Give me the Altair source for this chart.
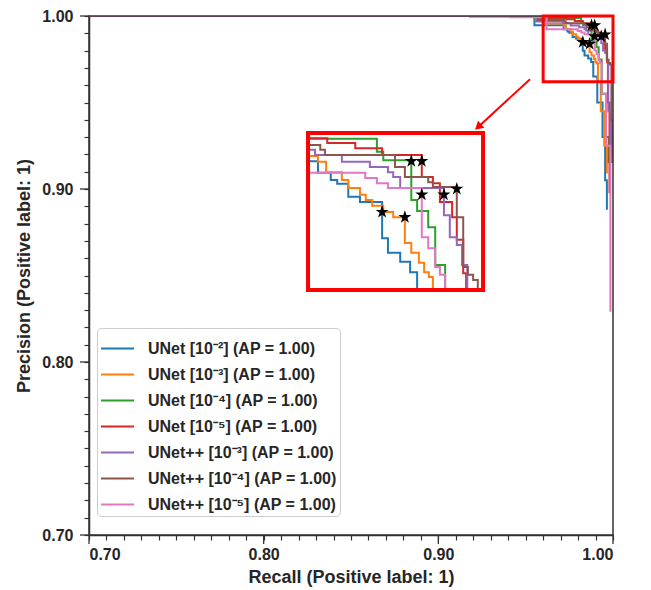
import altair as alt
import pandas as pd

# ---------------- data ----------------
names = [
    "UNet [10⁻²] (AP = 1.00)",
    "UNet [10⁻³] (AP = 1.00)",
    "UNet [10⁻⁴] (AP = 1.00)",
    "UNet [10⁻⁵] (AP = 1.00)",
    "UNet++ [10⁻³] (AP = 1.00)",
    "UNet++ [10⁻⁴] (AP = 1.00)",
    "UNet++ [10⁻⁵] (AP = 1.00)",
]
colors = ["#1f77b4", "#ff7f0e", "#2ca02c", "#d62728", "#9467bd", "#8c564b", "#e377c2"]

# step curves: precision level k holds until recall step k, then drops to level k+1
unet2_recall = [0.955, 0.9717, 0.9739, 0.9750, 0.9769, 0.9789, 0.9827, 0.9837, 0.9858,
                0.9875, 0.9887, 0.9910, 0.9940, 0.9955, 0.9965]
unet2_prec = [1.0, 0.9946, 0.9924, 0.9910, 0.9903, 0.9878, 0.9868, 0.9799, 0.9771, 0.9754,
              0.9734, 0.965, 0.950, 0.930, 0.905, 0.888]

unet3_recall = [0.918, 0.960, 0.9717, 0.9731, 0.9758, 0.9769, 0.9789, 0.9799, 0.9810, 0.9829,
                0.9846, 0.9866, 0.9877, 0.9890, 0.9899, 0.9907, 0.9914, 0.9930, 0.9950, 0.9965]
unet3_prec = [1.0, 0.9995, 0.9956, 0.9945, 0.9925, 0.9910, 0.9895, 0.9882, 0.9872, 0.9861,
              0.9849, 0.9839, 0.9790, 0.9771, 0.9752, 0.9734, 0.9725, 0.962, 0.945, 0.925, 0.909]

unet4_recall = [0.955, 0.9818, 0.9829, 0.9877, 0.9887, 0.9906, 0.9918, 0.9935, 0.9960, 0.9975]
unet4_prec = [1.0, 0.9989, 0.9964, 0.9948, 0.9872, 0.9851, 0.9820, 0.9748, 0.955, 0.930, 0.915]

unet5_recall = [0.958, 0.9733, 0.9781, 0.9827, 0.9895, 0.9914, 0.9926, 0.9947, 0.9955, 0.9966,
                0.9971, 0.9980]
unet5_prec = [1.0, 0.9990, 0.9981, 0.9971, 0.9958, 0.9916, 0.9904, 0.9868, 0.9839, 0.9796,
              0.9732, 0.950, 0.8975]

unetpp3_recall = [0.956, 0.9712, 0.9758, 0.9806, 0.9837, 0.9846, 0.9858, 0.9933, 0.9943, 0.9955,
                  0.9964, 0.9973, 0.9985]
unetpp3_prec = [1.0, 0.9968, 0.9958, 0.9945, 0.9935, 0.9925, 0.9916, 0.9895, 0.9843, 0.9801,
                0.9786, 0.9748, 0.945, 0.920]

unetpp4_recall = [0.957, 0.9721, 0.9729, 0.9849, 0.9866, 0.9906, 0.9914, 0.9955, 0.9966, 0.9974,
                  0.9983, 0.9991, 0.9995]
unetpp4_prec = [1.0, 0.9977, 0.9968, 0.9958, 0.9935, 0.9916, 0.9906, 0.9897, 0.9839, 0.9744,
                0.9729, 0.9719, 0.940, 0.915]

unetpp5_recall = [0.941, 0.962, 0.9798, 0.9818, 0.9837, 0.9895, 0.9906, 0.9918, 0.9926, 0.9935,
                  0.9960, 0.9985]
unetpp5_prec = [1.0, 0.9993, 0.9924, 0.9914, 0.9904, 0.9895, 0.9801, 0.9780, 0.9744, 0.9729,
                0.955, 0.925, 0.829]

# operating points (stars)
star_recall = [0.9827, 0.9866, 0.9877, 0.9895, 0.9933, 0.9955, 0.9895]
star_prec = [0.9849, 0.9839, 0.9946, 0.9946, 0.9882, 0.9893, 0.9882]

# annotations (main-axis data coordinates)
zoom_box = {"x0": 0.960, "x1": 1.000, "y0": 0.962, "y1": 1.000}
inset_box = {"x0": 0.8254, "x1": 0.9256, "y0": 0.8416, "y1": 0.9324}
inset_lo, inset_hi = 0.97, 1.00
arrow = {"x0": 0.9525, "y0": 0.9635, "x1": 0.9228, "y1": 0.9358}

tick_values = [round(0.70 + 0.01 * k, 2) for k in range(31)]
major_ticks = [0.70, 0.80, 0.90, 1.00]

# ---------------- tables ----------------
curves = [
    (unet2_recall, unet2_prec), (unet3_recall, unet3_prec), (unet4_recall, unet4_prec),
    (unet5_recall, unet5_prec), (unetpp3_recall, unetpp3_prec), (unetpp4_recall, unetpp4_prec),
    (unetpp5_recall, unetpp5_prec),
]
rows = []
for name, (rs, ps) in zip(names, curves):
    rows.append({"series": name, "i": 0, "recall": 0.0, "precision": ps[0]})
    k = 1
    for j, r in enumerate(rs):
        rows.append({"series": name, "i": k, "recall": r, "precision": ps[j]})
        k += 1
        rows.append({"series": name, "i": k, "recall": r, "precision": ps[j + 1]})
        k += 1
df = pd.DataFrame(rows)
stars = pd.DataFrame({"series": names, "recall": star_recall, "precision": star_prec})
zoom_df = pd.DataFrame([zoom_box])
inset_df = pd.DataFrame([inset_box])
arrow_df = pd.DataFrame([arrow])
major_df = pd.DataFrame({"v": major_ticks})

# ---------------- layout ----------------
W, H = 524, 519
FONT = "Liberation Sans"
DARK = "#262626"
STAR = ("M0,-1L0.225,-0.309L0.951,-0.309L0.363,0.118L0.588,0.809L0,0.382"
        "L-0.588,0.809L-0.363,0.118L-0.951,-0.309L-0.225,-0.309Z")
STAR_SIZE = 190

sx = alt.Scale(domain=[0.70, 1.00], nice=False, zero=False)
sy = alt.Scale(domain=[0.70, 1.00], nice=False, zero=False)
label_expr = "round(datum.value * 100) % 10 == 0 ? format(datum.value, '.2f') : ''"
ax_x = alt.Axis(values=tick_values, labelExpr=label_expr, labelOverlap=False, tickSize=5,
                labelPadding=6, titlePadding=6, grid=False)
ax_y = alt.Axis(values=tick_values, labelExpr=label_expr, labelOverlap=False, tickSize=5,
                labelPadding=11, titlePadding=8, grid=False)
XT = "Recall (Positive label: 1)"
YT = "Precision (Positive label: 1)"


def X(field):
    return alt.X(field, type="quantitative", scale=sx, axis=ax_x, title=XT)


def Y(field):
    return alt.Y(field, type="quantitative", scale=sy, axis=ax_y, title=YT)


color = alt.Color("series:N", title=None, scale=alt.Scale(domain=names, range=colors))

lines = alt.Chart(df).mark_line(strokeWidth=2, clip=True).encode(
    x=X("recall"), y=Y("precision"), color=color, order="i:Q")

star_pts = alt.Chart(stars).mark_point(shape=STAR, filled=True, color="black", size=STAR_SIZE,
                                       opacity=1).encode(x=X("recall"), y=Y("precision"))

frame = alt.Chart(zoom_df).mark_rect(fillOpacity=0, stroke="#333333", strokeWidth=1.5).encode(
    x=alt.value(0), x2=alt.value(W), y=alt.value(0), y2=alt.value(H))

zoom_rect = alt.Chart(zoom_df).mark_rect(fillOpacity=0, stroke="red", strokeWidth=3).encode(
    x=X("x0"), x2="x1", y=Y("y0"), y2="y1")

arrow_line = alt.Chart(arrow_df).mark_rule(color="red", strokeWidth=2).encode(
    x=X("x0"), x2="x1", y=Y("y0"), y2="y1")
arrow_head = alt.Chart(arrow_df).mark_point(shape="triangle-up", filled=True, color="red",
                                            size=90, angle=228, opacity=1).encode(
    x=X("x1"), y=Y("y1"))

xmaj = alt.Chart(major_df).mark_rule(color="#333333", strokeWidth=1.3).encode(
    x=X("v"), y=alt.value(H), y2=alt.value(H + 9))
ymaj = alt.Chart(major_df).mark_rule(color="#333333", strokeWidth=1.3).encode(
    y=Y("v"), x=alt.value(-9), x2=alt.value(0))

# inset: the same curves, zoomed into [0.97, 1.00] and placed inside the inset box
bx0, bx1, by0, by1 = inset_box["x0"], inset_box["x1"], inset_box["y0"], inset_box["y1"]
span = inset_hi - inset_lo
ix_expr = f"{bx0} + (clamp(datum.recall, {inset_lo}, {inset_hi}) - {inset_lo}) / {span} * {bx1 - bx0}"
iy_expr = f"{by0} + (clamp(datum.precision, {inset_lo}, {inset_hi}) - {inset_lo}) / {span} * {by1 - by0}"

inset_bg = alt.Chart(inset_df).mark_rect(fill="white").encode(
    x=X("x0"), x2="x1", y=Y("y0"), y2="y1")
inset_lines = alt.Chart(df).transform_calculate(ix=ix_expr, iy=iy_expr).mark_line(
    strokeWidth=2).encode(
    x=X("ix"), y=Y("iy"), color=color, order="i:Q")
inset_stars = alt.Chart(stars).transform_calculate(ix=ix_expr, iy=iy_expr).mark_point(
    shape=STAR, filled=True, color="black", size=STAR_SIZE, opacity=1).encode(
    x=X("ix"), y=Y("iy"))
inset_border = alt.Chart(inset_df).mark_rect(fillOpacity=0, stroke="red", strokeWidth=4).encode(
    x=X("x0"), x2="x1", y=Y("y0"), y2="y1")

chart = alt.layer(
    lines, frame, star_pts, zoom_rect, arrow_line, arrow_head, xmaj, ymaj,
    inset_bg, inset_lines, inset_stars, inset_border,
).properties(
    width=W, height=H,
    padding={"left": 81, "top": 8, "right": 30, "bottom": 55},
    autosize=alt.AutoSizeParams(type="none"),
).configure_view(stroke=None).configure_axis(
    labelFont=FONT, labelFontSize=16, labelFontWeight="bold", labelColor=DARK,
    titleFont=FONT, titleFontSize=18, titleFontWeight="bold", titleColor=DARK,
    domainColor="#333333", domainWidth=1.5, tickColor="#333333", tickWidth=1.2,
).configure_legend(
    orient="none", legendX=8, legendY=312,
    fillColor="rgba(255,255,255,0.8)", strokeColor="#cccccc", cornerRadius=4, padding=3,
    symbolType="stroke", symbolSize=1089, symbolStrokeWidth=2, rowPadding=-0.4,
    labelFont=FONT, labelFontSize=16, labelFontWeight="bold", labelColor=DARK,
    labelOffset=13, labelLimit=400,
)

chart.save("out.html", embed_options={"renderer": "svg", "actions": False})
